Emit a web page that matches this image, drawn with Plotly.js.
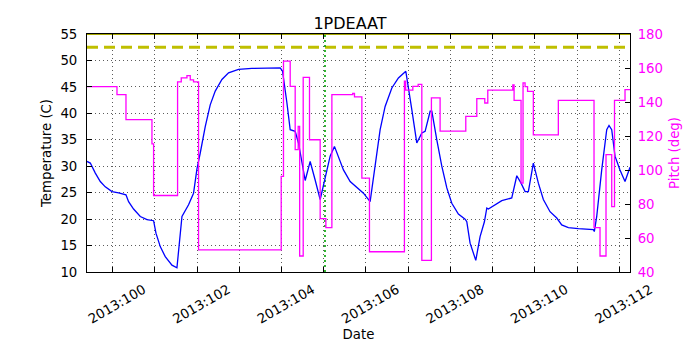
<!DOCTYPE html>
<html>
<head>
<meta charset="utf-8">
<script src="https://cdn.plot.ly/plotly-3.0.1.min.js"></script>
<style>
  body { margin: 0; background: #fff; }
  #chart { width: 700px; height: 350px; }
</style>
</head>
<body>
<div id="chart"></div>
<script>
// Temperature samples (day of year 2013, deg C)
const tempDay = [99.394, 99.472, 99.591, 99.709, 99.827, 99.986, 100.142, 100.317, 100.379, 100.497,
  100.656, 100.814, 100.971, 101.027, 101.129, 101.247, 101.406, 101.524, 101.643, 101.799,
  101.917, 101.998, 102.076, 102.194, 102.312, 102.431, 102.589, 102.746, 102.982, 103.299,
  103.969, 104.024, 104.128, 104.206, 104.324, 104.402, 104.561, 104.679, 104.797, 104.916,
  105.034, 105.152, 105.254, 105.349, 105.467, 105.626, 105.785, 105.941, 106.099, 106.218,
  106.336, 106.454, 106.613, 106.769, 106.944, 107.086, 107.204, 107.323, 107.401, 107.52,
  107.56, 107.678, 107.796, 107.915, 108.033, 108.189, 108.348, 108.388, 108.466, 108.601,
  108.703, 108.805, 108.862, 108.899, 109.058, 109.217, 109.453, 109.572, 109.673, 109.768,
  109.846, 109.964, 110.083, 110.201, 110.359, 110.518, 110.636, 110.793, 111.03, 111.385,
  111.408, 111.465, 111.583, 111.702, 111.756, 111.82, 111.898, 112.016, 112.135, 112.213, 112.253];
const tempC = [30.9, 30.6, 28.7, 27.1, 26.1, 25.2, 24.95, 24.6, 23.3, 21.9,
  20.5, 19.9, 19.7, 17.35, 14.8, 12.9, 11.3, 10.8, 20.5, 22.7,
  24.9, 29.5, 32.5, 37.5, 41.6, 44.2, 46.4, 47.65, 48.3, 48.5,
  48.6, 48.0, 42.0, 36.9, 36.6, 34.4, 27.3, 30.9, 27.4, 23.7,
  27.8, 31.9, 33.75, 31.9, 29.3, 27.1, 25.9, 24.9, 23.3, 30.6,
  36.9, 41.3, 44.8, 46.7, 47.95, 40.7, 34.4, 36.3, 36.6, 40.4,
  40.4, 35.0, 30.0, 25.9, 23.0, 20.95, 20.0, 19.5, 15.45, 12.2,
  16.7, 19.5, 22.1, 21.9, 22.7, 23.5, 24.0, 28.2, 26.8, 25.2,
  25.2, 30.6, 26.8, 23.7, 21.4, 20.2, 18.9, 18.4, 18.2, 18.0,
  17.65, 20.5, 29.3, 36.9, 37.7, 36.9, 31.9, 29.3, 27.1, 29.0, 29.8];

// Pitch steps (day of year 2013, deg)
const pitchDay = [99.394, 100.104, 100.317, 100.932, 100.971, 101.539, 101.626, 101.761, 101.839, 101.917,
  102.036, 103.993, 104.047, 104.206, 104.324, 104.395, 104.43, 104.514, 104.663, 104.916,
  105.051, 105.193, 105.686, 105.728, 105.903, 106.083, 106.911, 106.94, 107.11, 107.236,
  107.323, 107.55, 107.756, 108.364, 108.625, 108.814, 108.885, 109.477, 109.508, 109.673,
  109.72, 109.768, 109.827, 109.964, 110.556, 111.401, 111.543, 111.685, 111.82, 111.886,
  112.135, 112.253];
const pitchDeg = [149, 144.3, 129.6, 115.4, 85, 151.8, 154.2, 155.5, 153, 151.8,
  53, 96.2, 164, 149.2, 112, 125.6, 49.4, 154.5, 117.8, 71.4,
  66.1, 144.3, 145, 143, 95.2, 51.9, 152.2, 147, 149.2, 150.4,
  46.8, 142.4, 122.9, 131.5, 142, 139.4, 147, 150, 141, 92.3,
  151.2, 149, 146.3, 120.7, 141, 66.1, 49.4, 109, 78.5, 141,
  147.3, 147.3];

const tickDays = [100, 101, 102, 103, 104, 105, 106, 107, 108, 109, 110, 111, 112];
const tickLabels = ["2013:100", "", "2013:102", "", "2013:104", "", "2013:106", "",
  "2013:108", "", "2013:110", "", "2013:112"];

const xRange = [99.394, 112.253];
const limitTemp = 52.5;
const planTemp = 55;
const markDay = 105.03;

const traces = [
  {
    x: xRange, y: [limitTemp, limitTemp], mode: "lines", type: "scatter",
    line: { color: "#bfbf00", width: 3, dash: "11px,6px" }, hoverinfo: "skip"
  },
  {
    x: xRange, y: [planTemp, planTemp], mode: "lines", type: "scatter",
    line: { color: "#a8a800", width: 2 }, hoverinfo: "skip"
  },
  {
    x: [markDay, markDay], y: [10, 55], mode: "lines", type: "scatter",
    line: { color: "#00a000", width: 1.6, dash: "2px,3px" }, hoverinfo: "skip"
  },
  {
    x: tempDay, y: tempC, mode: "lines", type: "scatter", name: "1PDEAAT",
    line: { color: "#0000ff", width: 1.3 }
  },
  {
    x: pitchDay, y: pitchDeg, mode: "lines", type: "scatter", name: "Pitch",
    yaxis: "y2", line: { color: "#ff00ff", width: 1.3, shape: "hv" }
  }
];

const font = { family: "DejaVu Sans", size: 13.3, color: "#000" };
const grid = { showgrid: true, gridcolor: "#333", gridwidth: 0.8, griddash: "1px,3px" };

const layout = {
  width: 700, height: 350,
  margin: { l: 87, r: 70, t: 34, b: 78 },
  paper_bgcolor: "#fff", plot_bgcolor: "#fff",
  showlegend: false,
  font: font,
  title: { text: "1PDEAAT", font: { family: "DejaVu Sans", size: 16, color: "#000" },
    x: 0.5, xanchor: "center", y: 0.932, yanchor: "middle" },
  xaxis: Object.assign({
    range: xRange, tickvals: tickDays, ticktext: tickLabels, tickangle: -30,
    ticks: "inside", ticklen: 5, tickcolor: "#000", mirror: "ticks",
    showline: true, linecolor: "#000", linewidth: 1,
    zeroline: false, ticklabelshift: 31, ticklabelstandoff: 4,
    title: { text: "Date", font: font, standoff: 4 }
  }, grid),
  yaxis: Object.assign({
    range: [10, 55], tickvals: [10, 15, 20, 25, 30, 35, 40, 45, 50, 55],
    ticks: "inside", ticklen: 5, tickcolor: "#000",
    showline: true, linecolor: "#000", linewidth: 1,
    zeroline: false, ticklabelstandoff: 6,
    title: { text: "Temperature (C)", font: font, standoff: 5 }
  }, grid),
  yaxis2: {
    overlaying: "y", side: "right", range: [40, 180],
    tickvals: [40, 60, 80, 100, 120, 140, 160, 180],
    ticks: "inside", ticklen: 5, tickcolor: "#000",
    showline: true, linecolor: "#000", linewidth: 1,
    showgrid: false, zeroline: false, ticklabelstandoff: 4,
    tickfont: { family: "DejaVu Sans", size: 13.3, color: "#ff00ff" },
    title: { text: "Pitch (deg)", font: { family: "DejaVu Sans", size: 13.3, color: "#ff00ff" }, standoff: 7 }
  }
};

Plotly.newPlot("chart", traces, layout, { displayModeBar: false, staticPlot: true });
</script>
</body>
</html>
